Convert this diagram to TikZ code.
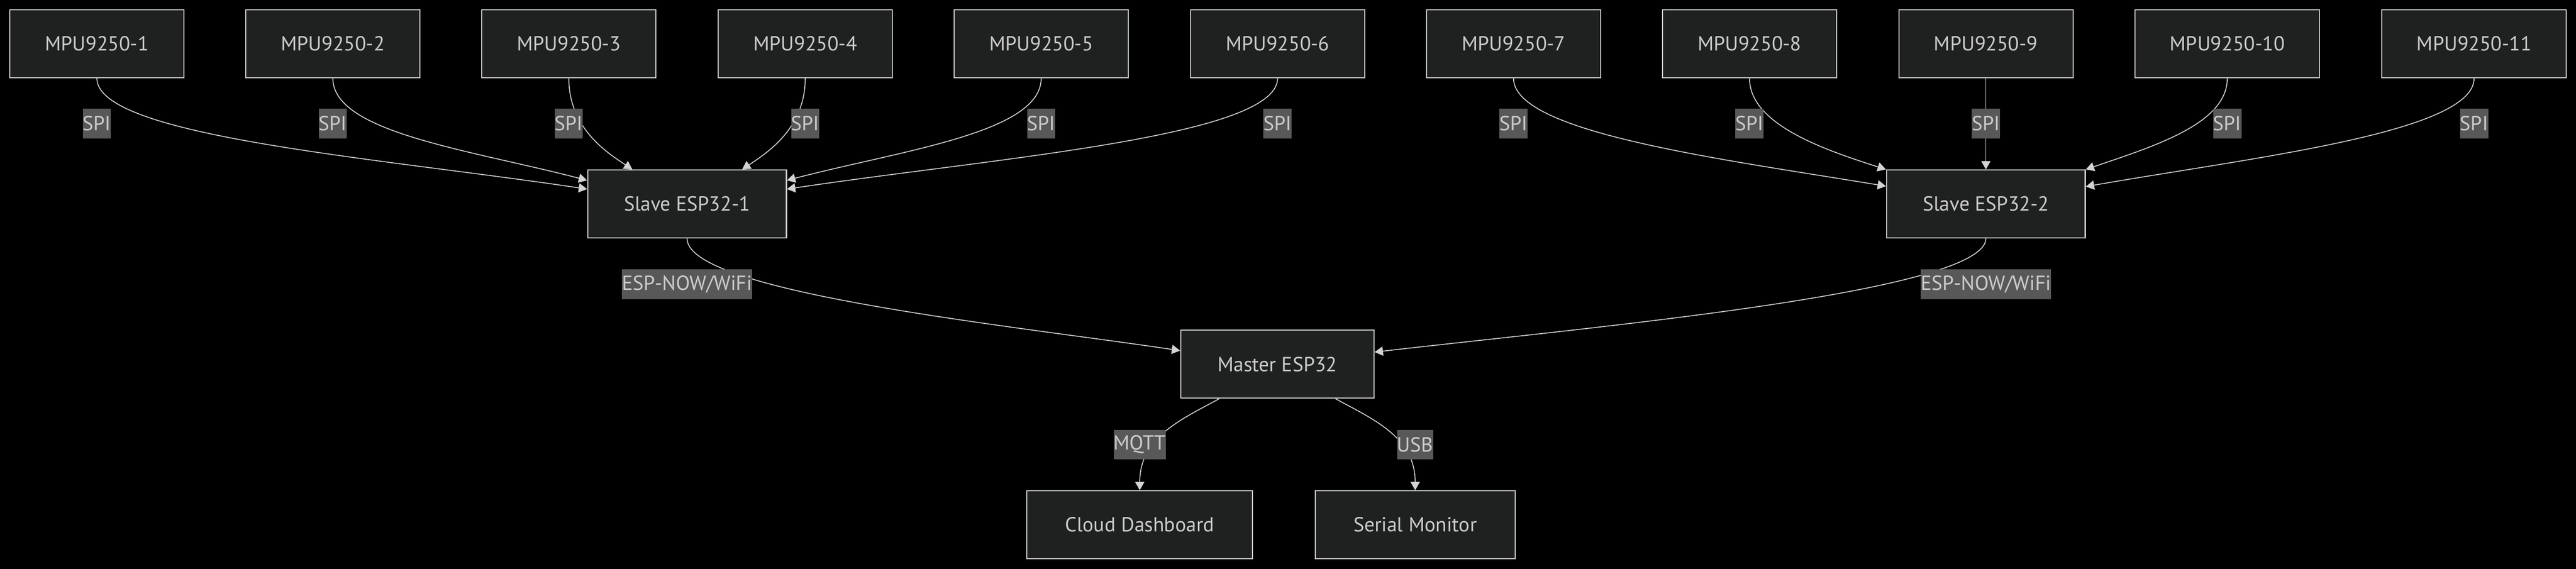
\documentclass[tikz,border=0pt]{standalone}
\usepackage{fontspec}
\setmainfont{PT Sans}
\usetikzlibrary{arrows.meta}
\definecolor{nodebg}{HTML}{1F2020}
\definecolor{nodeline}{HTML}{CCCCCC}
\definecolor{labelbg}{HTML}{585858}
\definecolor{linecol}{HTML}{D3D3D3}
\begin{document}
\begin{tikzpicture}[line width=0.75pt, font=\fontsize{13.9}{16}\selectfont,
      box/.style={draw=nodeline, fill=nodebg, text=nodeline, rectangle,
        minimum height=1.625cm, inner sep=0pt},
      pfeil/.style={draw=linecol, line width=0.6pt,
        -{Triangle[length=0.2cm,width=0.22cm]}},
      lbl/.style={fill=labelbg, text=nodeline, inner xsep=0pt, inner ysep=0pt,
        minimum height=0.71cm}]
    \useasboundingbox (0,0) rectangle (61.68,-13.62);
    \fill[black] (-0.2,0.2) rectangle (61.88,-13.82);
    % sensors
    \node[box, minimum width=4.17cm] at (2.32,-1.05) (M1) {MPU9250-1};
    \node[box, minimum width=4.17cm] at (7.97,-1.05) (M2) {MPU9250-2};
    \node[box, minimum width=4.17cm] at (13.62,-1.05) (M3) {MPU9250-3};
    \node[box, minimum width=4.17cm] at (19.28,-1.05) (M4) {MPU9250-4};
    \node[box, minimum width=4.17cm] at (24.93,-1.05) (M5) {MPU9250-5};
    \node[box, minimum width=4.17cm] at (30.59,-1.05) (M6) {MPU9250-6};
    \node[box, minimum width=4.17cm] at (36.24,-1.05) (M7) {MPU9250-7};
    \node[box, minimum width=4.17cm] at (41.89,-1.05) (M8) {MPU9250-8};
    \node[box, minimum width=4.17cm] at (47.55,-1.05) (M9) {MPU9250-9};
    \node[box, minimum width=4.42cm] at (53.33,-1.05) (M10) {MPU9250-10};
    \node[box, minimum width=4.42cm] at (59.24,-1.05) (M11) {MPU9250-11};
    % controllers
    \node[box, minimum width=4.76cm] at (16.45,-4.885) (S1) {Slave ESP32-1};
    \node[box, minimum width=4.76cm] at (47.55,-4.885) (S2) {Slave ESP32-2};
    \node[box, minimum width=4.63cm] at (30.585,-8.725) (MS) {Master ESP32};
    \node[box, minimum width=5.40cm] at (27.29,-12.57) (CD) {Cloud Dashboard};
    \node[box, minimum width=4.79cm] at (33.885,-12.57) (SM) {Serial Monitor};
    % links
    \draw[pfeil] (M1.south) .. controls +(0,-1.4) and +(-5,0.75) .. ([yshift=3.55mm]S1.west);
    \draw[pfeil] (M2.south) .. controls +(0,-1.3) and +(-2.8,0.73) .. ([yshift=5.65mm]S1.west);
    \draw[pfeil] (M3.south) .. controls +(0,-1.2) and +(-0.6,0.4) .. ([xshift=-13.1mm]S1.north);
    \draw[pfeil] (M4.south) .. controls +(0,-1.2) and +(0.6,0.4) .. ([xshift=13.2mm]S1.north);
    \draw[pfeil] (M5.south) .. controls +(0,-1.3) and +(2.8,0.73) .. ([yshift=5.65mm]S1.east);
    \draw[pfeil] (M6.south) .. controls +(0,-1.4) and +(5,0.75) .. ([yshift=3.55mm]S1.east);
    \draw[pfeil] (M7.south) .. controls +(0,-1.3) and +(-4,0.66) .. ([yshift=4.25mm]S2.west);
    \draw[pfeil] (M8.south) .. controls +(0,-1.1) and +(-1.5,0.48) .. (S2.north west);
    \draw[pfeil] (M9.south) -- (S2.north);
    \draw[pfeil] (M10.south) .. controls +(0,-1.1) and +(1.6,0.55) .. (S2.north east);
    \draw[pfeil] (M11.south) .. controls +(0,-1.3) and +(4,0.7) .. ([yshift=4.15mm]S2.east);
    \draw[pfeil] (S1.south) .. controls +(0,-1.3) and +(-4,0.6) .. ([yshift=3.25mm]MS.west);
    \draw[pfeil] (S2.south) .. controls +(0,-1.3) and +(5,0.58) .. ([yshift=2.9mm]MS.east);
    \draw[pfeil] ([xshift=-13.9mm]MS.south) .. controls +(-0.915,-0.5) and +(0,1.27) .. (CD.north);
    \draw[pfeil] ([xshift=13.9mm]MS.south) .. controls +(0.915,-0.5) and +(0,1.27) .. (SM.north);
    % link labels
    \node[lbl] at (2.32,-2.96) (L1) {SPI};
    \node[lbl] at (7.97,-2.96) (L2) {SPI};
    \node[lbl] at (13.62,-2.96) (L3) {SPI};
    \node[lbl] at (19.28,-2.96) (L4) {SPI};
    \node[lbl] at (24.93,-2.96) (L5) {SPI};
    \node[lbl] at (30.59,-2.96) (L6) {SPI};
    \node[lbl] at (36.24,-2.96) (L7) {SPI};
    \node[lbl] at (41.89,-2.96) (L8) {SPI};
    \node[lbl] at (47.55,-2.96) (L9) {SPI};
    \node[lbl] at (53.33,-2.96) (L10) {SPI};
    \node[lbl] at (59.24,-2.96) (L11) {SPI};
    \node[lbl] at (16.45,-6.81) (E1) {ESP-NOW/WiFi};
    \node[lbl] at (47.55,-6.81) (E2) {ESP-NOW/WiFi};
    \node[lbl] at (27.29,-10.65) (Q1) {MQTT};
    \node[lbl] at (33.885,-10.65) (U1) {USB};
  \end{tikzpicture}
\end{document}
